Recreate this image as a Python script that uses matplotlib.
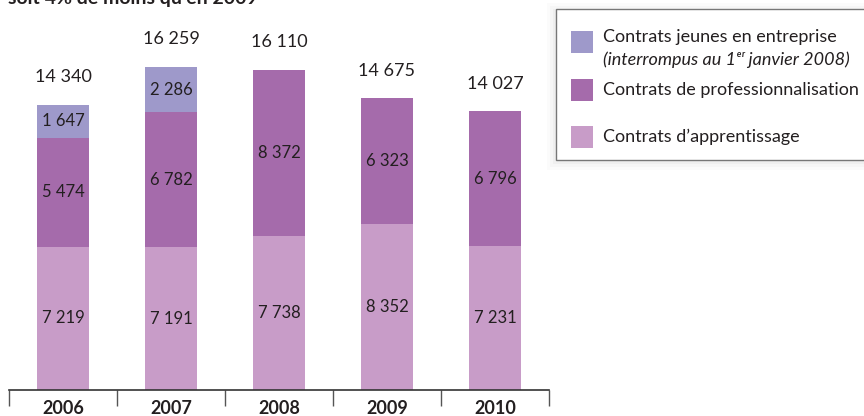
import matplotlib
matplotlib.use('Agg')
import matplotlib.pyplot as plt
from matplotlib.patches import Rectangle
import numpy as np

years = ['2006', '2007', '2008', '2009', '2010']
apprentissage = [7219, 7191, 7738, 8352, 7231]
professionnalisation = [5474, 6782, 8372, 6323, 6796]
jeunes_entreprise = [1647, 2286, 0, 0, 0]
totals = [14340, 16259, 16110, 14675, 14027]

c_app = '#c89cc8'
c_pro = '#a56bab'
c_cje = '#9e99ca'

plt.rcParams['font.family'] = ['Lato', 'DejaVu Sans']

def fmt(v):
    return '{:,}'.format(v).replace(',', ' ')

fig = plt.figure(figsize=(8.64, 4.16), dpi=100)
W, H = 864, 416
ax = fig.add_axes([9 / W, 26 / H, 540 / W, 382 / H])

x = np.arange(len(years))
w = 0.49
app = np.array(apprentissage)
pro = np.array(professionnalisation)
cje = np.array(jeunes_entreprise)

ax.bar(x, app, w, color=c_app)
ax.bar(x, pro, w, bottom=app, color=c_pro)
ax.bar(x, cje, w, bottom=app + pro, color=c_cje)

for i in range(len(years)):
    ax.text(x[i], app[i] / 2, fmt(app[i]), ha='center', va='center', fontsize=12, color='#231f20')
    ax.text(x[i], app[i] + pro[i] / 2, fmt(pro[i]), ha='center', va='center', fontsize=12, color='#231f20')
    if cje[i] > 0:
        ax.text(x[i], app[i] + pro[i] + cje[i] / 2, fmt(cje[i]), ha='center', va='center', fontsize=12, color='#231f20')
    ax.annotate(fmt(totals[i]), (x[i], totals[i]), xytext=(0, 20), textcoords='offset points',
                ha='center', va='center', fontsize=13, color='#231f20')

ax.set_xlim(-0.5, 4.5)
ax.set_ylim(0, 19225)
for s in ['top', 'right', 'left']:
    ax.spines[s].set_visible(False)
ax.spines['bottom'].set_color('#333333')
ax.spines['bottom'].set_linewidth(1.2)
ax.set_yticks([])
ax.set_xticks(x)
ax.set_xticklabels(years, fontsize=13, fontweight='bold', color='#231f20')
ax.tick_params(axis='x', which='major', length=0, pad=7.5)
ax.set_xticks(np.arange(-0.5, 5, 1), minor=True)
ax.tick_params(axis='x', which='minor', length=11.5, width=1, color='#555555')

# title (cut at top)
fig.text(8 / W, 1 - 4 / H, 'soit 4% de moins qu\u2019en 2009', fontsize=14, fontweight='bold',
         ha='left', va='baseline', color='#231f20')

# legend box
for k, a in enumerate([0.05, 0.04, 0.03]):
    fig.patches.append(Rectangle(((556 - 3 - k * 3) / W, 1 - (160 + 4 + k * 3) / H),
                                 (330 + 6 + k * 6) / W, (151 + 4 + k * 6) / H,
                                 transform=fig.transFigure, facecolor='#888888', alpha=a,
                                 edgecolor='none', zorder=0))
fig.patches.append(Rectangle((556 / W, 1 - 160 / H), 330 / W, 151 / H, transform=fig.transFigure,
                             facecolor='white', edgecolor='#777777', linewidth=1, zorder=1))
for col, yc in [(c_cje, 42), (c_pro, 90), (c_app, 137)]:
    fig.patches.append(Rectangle((571 / W, 1 - (yc + 11) / H), 22 / W, 22 / H, transform=fig.transFigure,
                                 facecolor=col, edgecolor='none', zorder=2))
fig.text(603 / W, 1 - 37 / H, 'Contrats jeunes en entreprise', fontsize=13, va='center', color='#231f20', zorder=3)
fig.text(603 / W, 1 - 60 / H, '(interrompus au 1\u1d49\u02b3 janvier 2008)', fontsize=13, style='italic',
         va='center', color='#231f20', zorder=3)
fig.text(603 / W, 1 - 90 / H, 'Contrats de professionnalisation', fontsize=13, va='center', color='#231f20', zorder=3)
fig.text(603 / W, 1 - 137 / H, 'Contrats d\u2019apprentissage', fontsize=13, va='center', color='#231f20', zorder=3)

fig.savefig('out.png', dpi=100)
